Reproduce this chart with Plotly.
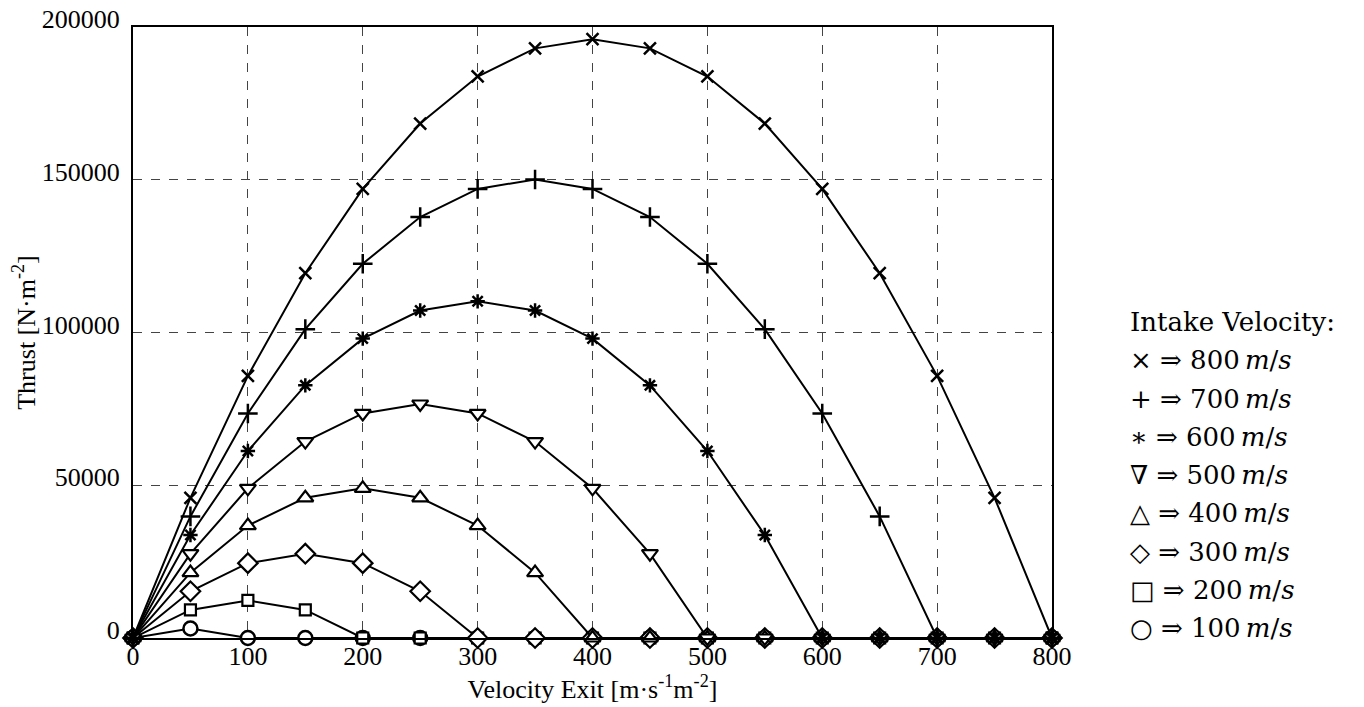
import plotly.graph_objects as go

exit_velocity = [0, 50, 100, 150, 200, 250, 300, 350, 400, 450, 500, 550, 600, 650, 700, 750, 800]

intake_velocity = [100, 200, 300, 400, 500, 600, 700, 800]

thrust_100 = [0, 3100, 0, 0, 0, 0, 0, 0, 0, 0, 0, 0, 0, 0, 0, 0, 0]
thrust_200 = [0, 9200, 12300, 9200, 0, 0, 0, 0, 0, 0, 0, 0, 0, 0, 0, 0, 0]
thrust_300 = [0, 15300, 24500, 27600, 24500, 15300, 0, 0, 0, 0, 0, 0, 0, 0, 0, 0, 0]
thrust_400 = [0, 21400, 36800, 45900, 49000, 45900, 36800, 21400, 0, 0, 0, 0, 0, 0, 0, 0, 0]
thrust_500 = [0, 27600, 49000, 64300, 73500, 76600, 73500, 64300, 49000, 27600, 0, 0, 0, 0, 0, 0, 0]
thrust_600 = [0, 33700, 61200, 82700, 98000, 107200, 110200, 107200, 98000, 82700, 61200, 33700, 0, 0, 0, 0, 0]
thrust_700 = [0, 39800, 73500, 101100, 122500, 137800, 147000, 150100, 147000, 137800, 122500, 101100, 73500, 39800, 0, 0, 0]
thrust_800 = [0, 45900, 85800, 119400, 147000, 168400, 183800, 193000, 196000, 193000, 183800, 168400, 147000, 119400, 85800, 45900, 0]

series = [thrust_100, thrust_200, thrust_300, thrust_400, thrust_500, thrust_600, thrust_700, thrust_800]

legend_symbols = ["○", "□", "◇", "△", "∇", "∗", "+", "×"]

marker_styles = [
    dict(symbol="circle", size=14, color="white", line=dict(color="black", width=2.5)),
    dict(symbol="square", size=11, color="white", line=dict(color="black", width=2.2)),
    dict(symbol="diamond", size=15, color="white", line=dict(color="black", width=2.2)),
    dict(symbol="triangle-up", size=14, color="white", line=dict(color="black", width=2.2)),
    dict(symbol="triangle-down", size=14, color="white", line=dict(color="black", width=2.2)),
    dict(symbol="asterisk-open", size=12, color="black", line=dict(color="black", width=2.5)),
    dict(symbol="cross-thin-open", size=14, color="black", line=dict(color="black", width=2.5)),
    dict(symbol="x-thin-open", size=12, color="black", line=dict(color="black", width=2.5)),
]

fig = go.Figure()
for vi, ys, ms in zip(intake_velocity, series, marker_styles):
    fig.add_trace(go.Scatter(
        x=exit_velocity, y=ys, mode="lines+markers",
        line=dict(color="black", width=2),
        marker=ms, name=f"{vi} m/s", showlegend=False, cliponaxis=False,
    ))

FONT = "Liberation Serif"
LEGEND_FONT = "DejaVu Serif"

axis_common = dict(
    showline=True, linecolor="black", linewidth=2, mirror=True,
    showgrid=True, gridcolor="#444444", griddash="dash", gridwidth=1,
    zeroline=False, ticks="", automargin=False, ticklabeloverflow="allow",
    tickfont=dict(family=FONT, size=26, color="black"),
)

fig.update_xaxes(range=[0, 800], tickvals=[0, 100, 200, 300, 400, 500, 600, 700, 800],
                 ticklabelstandoff=-6,
                 title=dict(text="Velocity Exit [m·s<sup>-1</sup>m<sup>-2</sup>]",
                            font=dict(family=FONT, size=26, color="black"), standoff=6),
                 **axis_common)
fig.update_yaxes(range=[0, 200000], tickvals=[0, 50000, 100000, 150000, 200000],
                 ticktext=["0", "50000", "100000", "150000", "200000"],
                 ticklabelstandoff=6, ticklabelshift=-8,
                 title=dict(text="Thrust [N·m<sup>-2</sup>]",
                            font=dict(family=FONT, size=26, color="black"), standoff=18),
                 **axis_common)

# page body adds an 8px offset; figure coordinates are page coordinates minus 8
OFF = 8
W, H = 1364 - OFF, 707 - OFF
plot_top, plot_bottom, plot_left, plot_right = 27 - OFF, 638 - OFF, 133 - OFF, 1052 - OFF

def px_to_paper_y(py):
    return (plot_bottom - (py - OFF)) / (plot_bottom - plot_top)
def px_to_paper_x(px):
    return ((px - OFF) - plot_left) / (plot_right - plot_left)

lines = ["Intake Velocity:"] + [
    f"{s} ⇒ {v}\u2009<i>m</i>/<i>s</i>" for s, v in zip(legend_symbols[::-1], intake_velocity[::-1])
]
for i, t in enumerate(lines):
    fig.add_annotation(
        x=px_to_paper_x(1128), y=px_to_paper_y(322 + 38.25 * i), xref="paper", yref="paper",
        text=t, showarrow=False, xanchor="left", yanchor="middle",
        font=dict(family=LEGEND_FONT, size=26, color="black"),
    )

fig.update_layout(
    width=W, height=H,
    margin=dict(l=plot_left, r=W - plot_right, t=plot_top, b=H - plot_bottom),
    plot_bgcolor="white", paper_bgcolor="white",
)

fig.write_html("out.html")
